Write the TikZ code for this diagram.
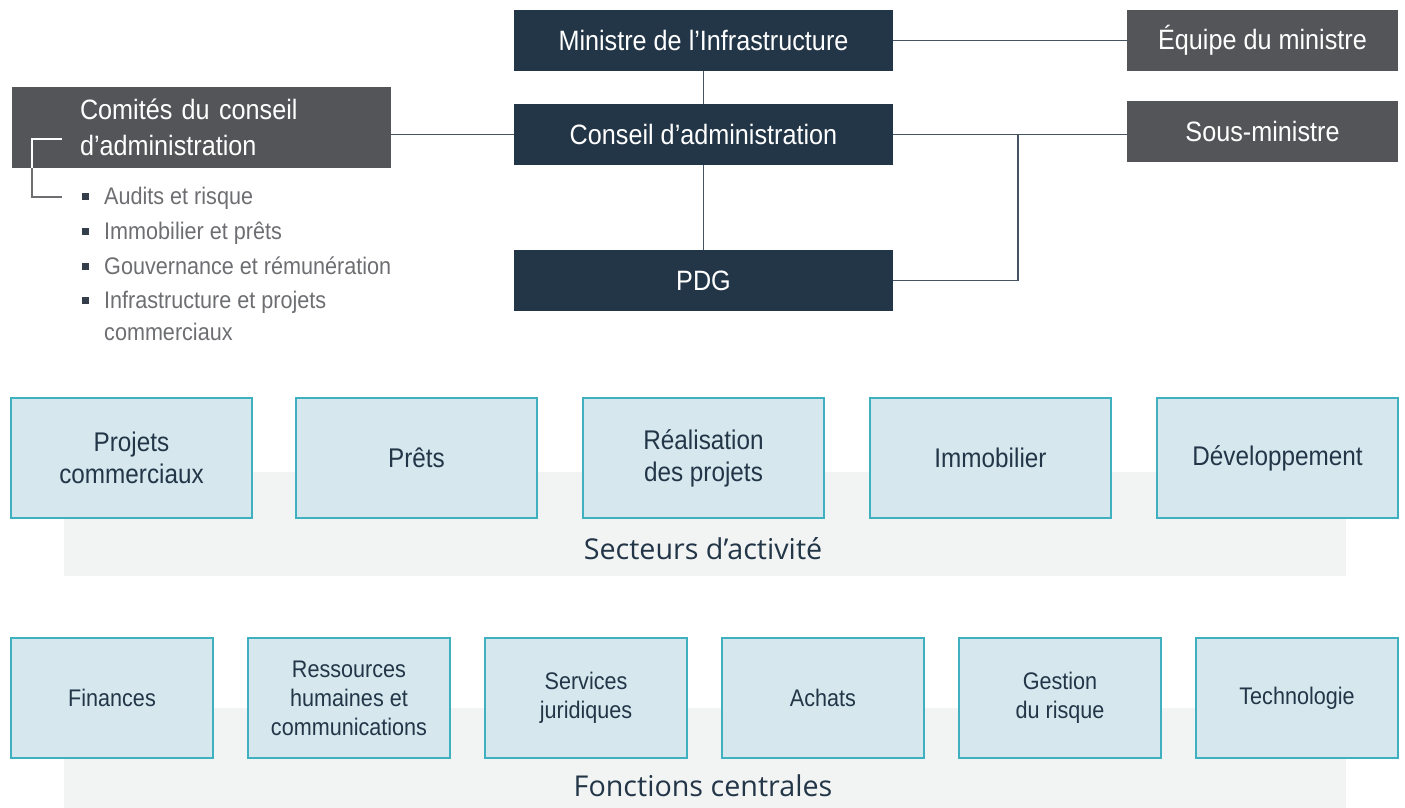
\documentclass[tikz,border=0pt]{standalone}
\usepackage{fontspec}
\setmainfont{Liberation Sans}[FakeStretch=0.9]
\newfontfamily\bandefont{Open Sans}
\usetikzlibrary{positioning}
\definecolor{marine}{RGB}{35,54,72}
\definecolor{ardoise}{RGB}{84,85,88}
\definecolor{bleupale}{RGB}{214,232,238}
\definecolor{sarcelle}{RGB}{62,176,192}
\definecolor{bandegris}{RGB}{242,244,244}
\definecolor{trait}{RGB}{70,84,98}
\definecolor{puce}{RGB}{109,110,113}
\definecolor{carreau}{RGB}{52,62,74}
\tikzset{
  orgnode/.style = {align=center, inner sep=0pt, text centered,
    font=\fontsize{28}{34}\selectfont},
  chef/.style = {orgnode, rectangle, fill=marine, text=white,
    minimum width=379pt, minimum height=61pt},% boites du haut
  conseiller/.style = {orgnode, rectangle, fill=ardoise, text=white,
    minimum width=271pt, minimum height=61pt},% boites de droite
  secteur/.style = {orgnode, rectangle, fill=bleupale, draw=sarcelle,
    line width=1.5pt, text=marine, minimum width=241pt, minimum height=120pt,
    font=\fontsize{27}{32}\selectfont},% secteurs d'activite
  fonction/.style = {secteur, minimum width=202pt,
    font=\fontsize{24}{29}\selectfont},% fonctions centrales
  bande/.style = {inner sep=0pt, fill=bandegris},
  etiquette/.style = {inner sep=0pt, text=marine,
    font=\bandefont\fontsize{28.7}{34}\selectfont},
  item/.style = {inner sep=0pt, anchor=base west, text=puce, align=left,
    font=\fontsize{24}{32}\selectfont},
  carre/.style = {inner sep=0pt, fill=carreau, minimum size=7pt},
  lien/.style = {draw=trait, line width=1.5pt}
}

\begin{document}
\begin{tikzpicture}[x=1pt,y=-1pt]
\useasboundingbox (0,0) rectangle (1405,808);

% bandes de fond
\node[bande, minimum width=1282pt, minimum height=104pt] (bandesecteurs) at (705,524) {};
\node[bande, minimum width=1282pt, minimum height=100pt] (bandefonctions) at (705,758) {};
\node[etiquette] (secteurs) at (703,549) {Secteurs d’activité};
\node[etiquette] (fonctions) at (703,786) {Fonctions centrales};

% gouvernance
\node[chef] (ministre) at (703.5,40.5) {Ministre de l’Infrastructure};
\node[chef] (conseil) at (703.5,134.5) {Conseil d’administration};
\node[chef] (pdg) at (703.5,280.5) {PDG};
\node[conseiller] (equipe) at (1262.5,40.5) {Équipe du ministre};
\node[conseiller] (sousministre) at (1262.5,131.5) {Sous-ministre};
\node[orgnode, rectangle, fill=ardoise, text=white, align=left,
  minimum width=379pt, minimum height=81pt, text width=243pt,
  font=\fontsize{28}{36}\selectfont] (comites) at (201.5,127.5)
  {Comités du conseil\\d’administration};

% comites
\node[item] (audits) at (104,204) {Audits et risque};
\node[item] (immobilierprets) at (104,239) {Immobilier et prêts};
\node[item] (gouvernance) at (104,274) {Gouvernance et rémunération};
\node[item] (infra) at (104,340) {Infrastructure et projets\\commerciaux};
\node[carre] at (85.5,196) {};
\node[carre] at (85.5,231) {};
\node[carre] at (85.5,266) {};
\node[carre] at (85.5,300) {};
\coordinate (crochethaut) at (62,139);
\coordinate (crochetbas) at (62,197);
\draw[white, line width=1.2pt] (crochethaut) -- (32,139) -- (32,168);
\draw[puce, line width=1.2pt] (32,168) -- (32,197) -- (crochetbas);

% liens
\draw[lien] (ministre) -- (conseil);
\draw[lien] (conseil) -- (pdg);
\draw[lien] (ministre) -- (equipe);
\draw[lien] (conseil.east) -- (sousministre.west |- conseil.east);
\coordinate (jonction) at (1018,134.5);
\draw[lien] (pdg.east) -| (jonction);
\draw[lien] (comites.east |- conseil.west) -- (conseil.west);

% secteurs d'activite
\node[secteur] (projets) at (131.5,458) {Projets\\commerciaux};
\node[secteur] (prets) at (416.5,458) {Prêts};
\node[secteur] (realisation) at (703.5,458) {Réalisation\\des projets};
\node[secteur] (immobilier) at (990.5,458) {Immobilier};
\node[secteur] (developpement) at (1277.5,458) {Développement};

% fonctions centrales
\node[fonction] (finances) at (112,698) {Finances};
\node[fonction] (rh) at (349,698) {Ressources\\humaines et\\communications};
\node[fonction] (juridiques) at (586,698) {Services\\juridiques};
\node[fonction] (achats) at (823,698) {Achats};
\node[fonction] (risque) at (1060,698) {Gestion\\du risque};
\node[fonction] (technologie) at (1297,698) {Technologie};
\end{tikzpicture}
\end{document}
